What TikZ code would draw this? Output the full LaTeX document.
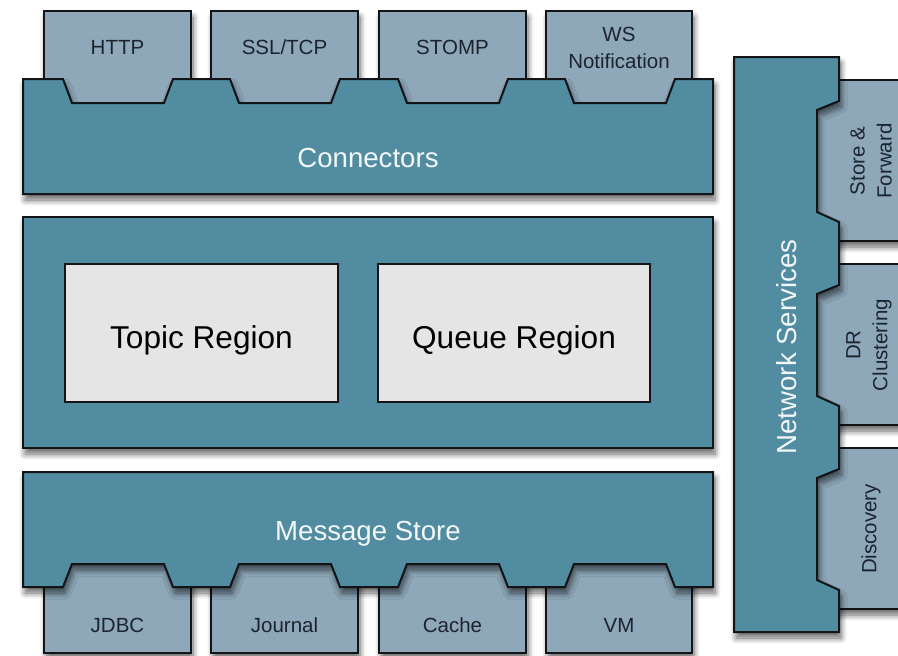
\documentclass[tikz,border=0pt]{standalone}
\usepackage{fontspec}
\setmainfont{Liberation Sans}
\usetikzlibrary{shadows.blur}
\definecolor{bodyc}{HTML}{528CA1}
\definecolor{tabc}{HTML}{8EA8B9}
\definecolor{regc}{HTML}{E6E5E5}
\definecolor{edgec}{HTML}{121418}
\definecolor{lighttxt}{HTML}{F2F7F9}
\definecolor{darktxt}{HTML}{1C2430}
\begin{document}
\begin{tikzpicture}[x=1pt,y=-1pt,
  shad/.style={blur shadow={shadow xshift=2pt, shadow yshift=-6pt, shadow blur radius=6pt, shadow blur steps=8, shadow opacity=60}},
  body/.style={fill=bodyc, draw=edgec, line width=2pt, line join=miter, shad},
  tab/.style={fill=tabc, draw=edgec, line width=2pt, shad},
  reg/.style={fill=regc, draw=edgec, line width=1.6pt},
  tabtxt/.style={font=\fontsize{20.5}{27}\selectfont, text=darktxt, align=center, inner sep=0pt},
  bigtxt/.style={font=\fontsize{27.6}{32}\selectfont, text=lighttxt, inner sep=0pt},
  regtxt/.style={font=\fontsize{31.6}{36}\selectfont, text=black, inner sep=0pt}]
\useasboundingbox (0,0) rectangle (898,656);

% ---------- top tabs ----------
\draw[tab] (44,11) rectangle (191,112);
\draw[tab] (211,11) rectangle (358,112);
\draw[tab] (379,11) rectangle (526,112);
\draw[tab] (546,11) rectangle (692,112);

% ---------- connectors ----------
\draw[body] (23,79)
  -- (63,79) -- (72,103) -- (164,103) -- (173,79)
  -- (230,79) -- (239,103) -- (331,103) -- (340,79)
  -- (398,79) -- (407,103) -- (499,103) -- (508,79)
  -- (565,79) -- (574,103) -- (666,103) -- (675,79)
  -- (713,79) -- (713,194) -- (23,194) -- cycle;

\node[tabtxt, anchor=base] (http) at (117.5,54) {HTTP};
\node[tabtxt, anchor=base] (ssl) at (284.5,54) {SSL/TCP};
\node[tabtxt, anchor=base] (stomp) at (452.5,54) {STOMP};
\node[tabtxt, anchor=base] (ws) at (619,41) {WS};
\node[tabtxt, anchor=base] (wsn) at (619,68) {Notification};
\node[bigtxt, anchor=base] (conn) at (368,167) {Connectors};

% ---------- middle ----------
\draw[body] (23,217) rectangle (713,448);
\draw[reg] (65,264) rectangle (338,402);
\draw[reg] (378,264) rectangle (650,402);
\node[regtxt, anchor=base] (topic) at (201.5,348) {Topic Region};
\node[regtxt, anchor=base] (queue) at (514,348) {Queue Region};

% ---------- bottom tabs ----------
\draw[tab] (44,560) rectangle (191,652.5);
\draw[tab] (211,560) rectangle (358,652.5);
\draw[tab] (379,560) rectangle (526,652.5);
\draw[tab] (546,560) rectangle (692,652.5);

% ---------- message store ----------
\draw[body] (23,472) -- (713,472) -- (713,587)
  -- (675,587) -- (666,564) -- (574,564) -- (565,587)
  -- (508,587) -- (499,564) -- (407,564) -- (398,587)
  -- (340,587) -- (331,564) -- (239,564) -- (230,587)
  -- (173,587) -- (164,564) -- (72,564) -- (63,587)
  -- (23,587) -- cycle;

\node[bigtxt, anchor=base] (store) at (368,540) {Message Store};
\node[tabtxt, anchor=base] (jdbc) at (117.5,632) {JDBC};
\node[tabtxt, anchor=base] (journal) at (284.5,632) {Journal};
\node[tabtxt, anchor=base] (cache) at (452.5,632) {Cache};
\node[tabtxt, anchor=base] (vm) at (619,632) {VM};

% ---------- right tabs ----------
\draw[tab] (805,80) rectangle (960,241);
\draw[tab] (805,264) rectangle (960,425);
\draw[tab] (805,448) rectangle (960,609);

% ---------- network services ----------
\draw[body] (734,57) -- (839,57)
  -- (839,101) -- (817,110) -- (817,212) -- (839,222)
  -- (839,285) -- (817,294) -- (817,396) -- (839,406)
  -- (839,469) -- (817,478) -- (817,580) -- (839,590)
  -- (839,632) -- (734,632) -- cycle;

\node[bigtxt, rotate=90] (net) at (787,347) {Network Services};
\node[tabtxt, rotate=90] (sf) at (871,161) {Store \&\\Forward};
\node[tabtxt, rotate=90] (dr) at (869,345) {DR\\Clustering};
\node[tabtxt, rotate=90] (disc) at (871,529) {Discovery};
\end{tikzpicture}
\end{document}
